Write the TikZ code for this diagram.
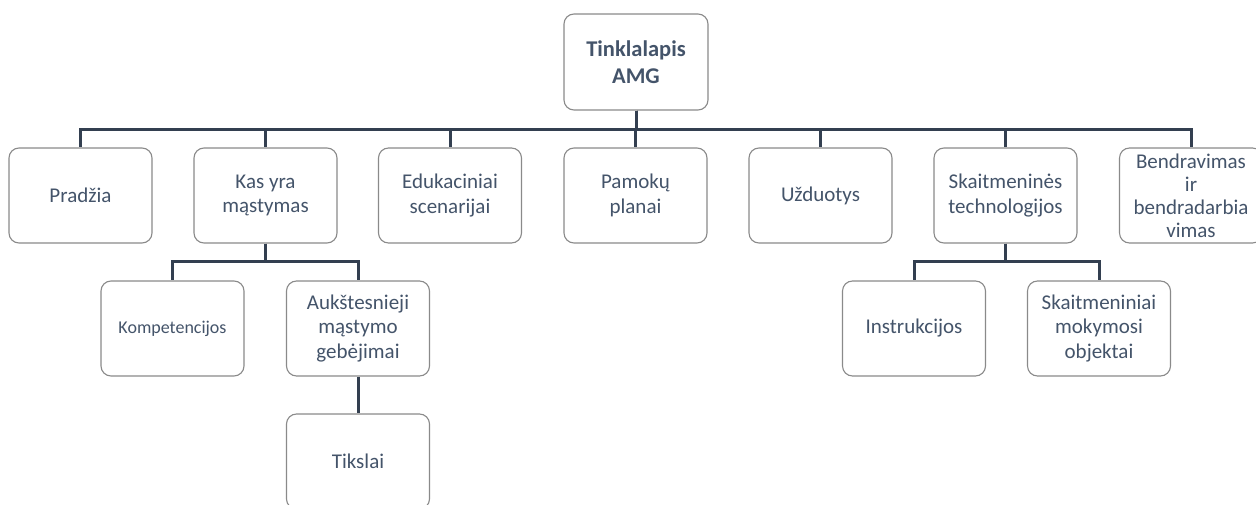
\documentclass[tikz,border=0pt]{standalone}
\usepackage{fontspec}
\setmainfont{Carlito}
\definecolor{txt}{HTML}{44546A}
\definecolor{wire}{HTML}{333F50}
\definecolor{edge}{HTML}{8A8A8A}
\tikzset{
  box/.style={draw=edge, line width=1.1pt, rounded corners=10pt, fill=white,
    minimum width=143pt, minimum height=95pt, inner sep=0pt,
    align=center, text=txt, font=\fontsize{21}{24.5}\selectfont},
  link/.style={draw=wire, line width=3pt}
}
\begin{document}
\begin{tikzpicture}[x=1pt, y=-1pt]
\useasboundingbox (0,0) rectangle (1256,505);

% helper heights for the two bus levels
\coordinate (bus) at (0,130);
\coordinate (sub) at (0,262);

% top level
\node[box, minimum width=144pt, minimum height=96pt, font=\bfseries\fontsize{22.5}{27}\selectfont] (root) at (636,62) {Tinklalapis\\AMG};

% first level
\node[box] (pradzia) at (80.5,195.5) {Pradžia};
\node[box] (kas) at (265.5,195.5) {Kas yra\\mąstymas};
\node[box] (eduk) at (450,195.5) {Edukaciniai\\scenarijai};
\node[box] (pamoku) at (635.5,195.5) {Pamokų\\planai};
\node[box] (uzd) at (820.5,195.5) {Užduotys};
\node[box] (skt) at (1005.5,195.5) {Skaitmeninės\\technologijos};
\node[box, font=\fontsize{21}{23}\selectfont] (bendr) at (1191,195.5) {Bendravimas\\ir\\bendradarbia\\vimas};

% second level
\node[box, font=\fontsize{18}{21}\selectfont] (komp) at (172.5,328.5) {Kompetencijos};
\node[box] (auk) at (358,328.5) {Aukštesnieji\\mąstymo\\gebėjimai};
\node[box] (instr) at (914,328.5) {Instrukcijos};
\node[box] (sktm) at (1099,328.5) {Skaitmeniniai\\mokymosi\\objektai};

% third level
\node[box] (tiks) at (358,461.5) {Tikslai};

% connectors from the root
\foreach \c in {pradzia,kas,eduk,pamoku,uzd,skt,bendr}
  \draw[link] (root.south) -- (root.south |- bus) -| (\c.north);

% connectors below "Kas yra mąstymas"
\foreach \c in {komp,auk}
  \draw[link] (kas.south) -- (kas.south |- sub) -| (\c.north);
\draw[link] (auk.south) -- (tiks.north);

% connectors below "Skaitmeninės technologijos"
\foreach \c in {instr,sktm}
  \draw[link] (skt.south) -- (skt.south |- sub) -| (\c.north);
\end{tikzpicture}
\end{document}
